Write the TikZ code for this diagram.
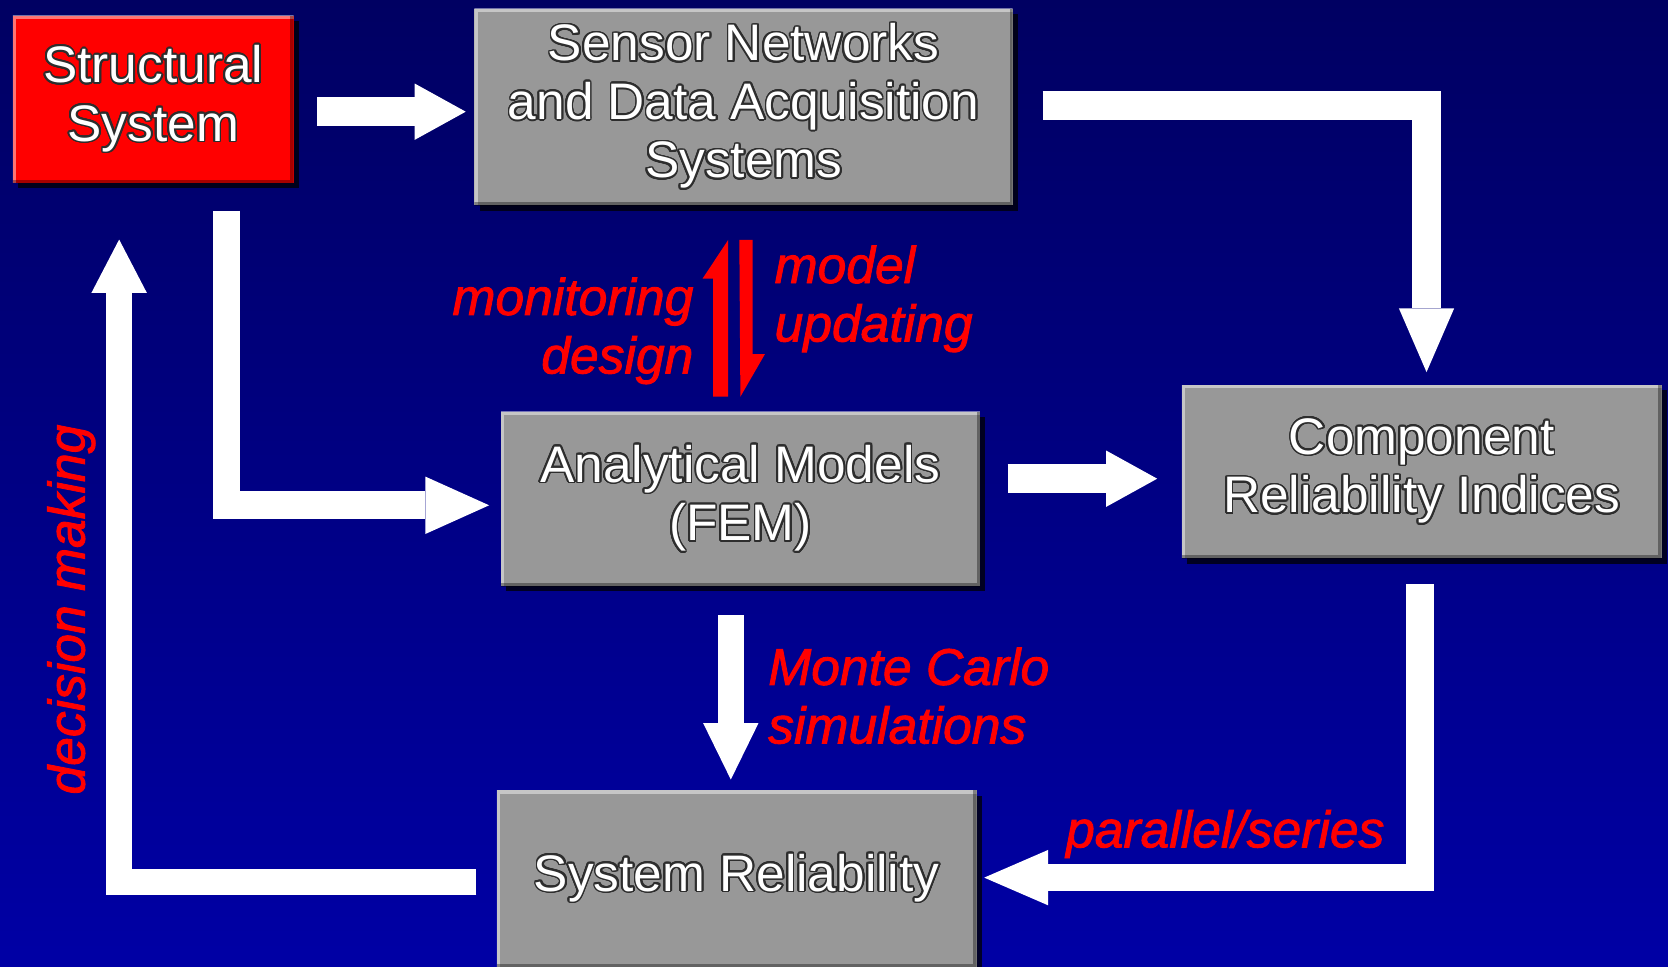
\documentclass[tikz,border=0pt]{standalone}
\usepackage{fontspec}
\setmainfont{Liberation Sans}
\usepackage{contour}
\contourlength{1.6pt}
\contournumber{24}
\usetikzlibrary{arrows.meta,calc,shadows}
\definecolor{bgtop}{RGB}{0,0,98}
\definecolor{bgbot}{RGB}{0,0,165}
\definecolor{boxgray}{RGB}{152,152,152}
\definecolor{boxred}{RGB}{255,0,0}
\definecolor{outl}{RGB}{45,45,45}
\definecolor{lblred}{RGB}{255,0,0}
\newcommand{\olt}[1]{\contour{outl}{#1}}
% slightly heavier red text
\newcommand{\emb}[1]{\special{pdf:code 2 Tr 0.8 w}#1\special{pdf:code 0 Tr}}
\begin{document}
\begin{tikzpicture}[x=1pt,y=-1pt,
  box/.style={rectangle, inner sep=0pt, fill=boxgray, text=white,
    font=\fontsize{48.3}{55}\selectfont, align=center,
    drop shadow={shadow xshift=5pt, shadow yshift=-5pt, opacity=0.75, fill=black},
    path picture={
      \draw[line width=6pt, draw=white, opacity=0.45]
        (path picture bounding box.south west) -- (path picture bounding box.north west)
        -- (path picture bounding box.north east);
      \draw[line width=6pt, draw=black, opacity=0.35]
        (path picture bounding box.south west) -- (path picture bounding box.south east)
        -- (path picture bounding box.north east);
    }},
  redbox/.style={box, fill=boxred},
  warrow/.style={draw=white, line width=26pt, line join=miter, line cap=butt},
  redlbl/.style={text=lblred, font=\fontsize{48.5}{55}\selectfont\itshape, inner sep=0pt},
  harpoon/.style={fill=lblred}
]
\useasboundingbox (0,0) rectangle (1568,909);
\fill[top color=bgtop, bottom color=bgbot] (0,0) rectangle (1568,909);

% boxes
\node[redbox, minimum width=264pt, minimum height=157pt] (ss) at (144,93.5)
  {\olt{Structural}\\\olt{System}};
\node[box, minimum width=506pt, minimum height=185pt] (sensor) at (699,100.5)
  {\olt{Sensor Networks}\\\olt{and Data Acquisition}\\\olt{Systems}};
\node[box, minimum width=450pt, minimum height=164pt] (am) at (696,469)
  {\olt{Analytical Models}\\\olt{(FEM)}};
\node[box, minimum width=451pt, minimum height=163pt] (cri) at (1336.5,443.5)
  {\olt{Component}\\\olt{Reliability Indices}};
\node[box, minimum width=451pt, minimum height=166pt] (sr) at (692.5,826)
  {\olt{System Reliability}};

% white block arrows
\draw[warrow, line width=27pt, -{Triangle[length=48pt,width=53pt,line width=0pt]}]
  ($(ss.east)+(22,11.5)$) -- ($(sensor.west)+(-8,4.5)$);
\draw[warrow, line width=27pt, -{Triangle[length=60pt,width=52pt,line width=0pt]}]
  ($(sensor.east)+(28,-1.5)$) -| ($(cri.north)+(4.5,-12)$);
\draw[warrow, line width=26pt, -{Triangle[length=60pt,width=54pt,line width=0pt]}]
  ($(ss.south)+(69,26)$) |- ($(am.west)+(-11,6)$);
\draw[warrow, line width=27pt, -{Triangle[length=48pt,width=53pt,line width=0pt]}]
  ($(am.east)+(26,-19)$) -- ($(cri.west)+(-23,6.5)$);
\draw[warrow, line width=26pt, -{Triangle[length=60pt,width=52pt,line width=0pt]}]
  ($(cri.south)+(-1.5,24)$) |- ($(sr.east)+(7,-1)$);
\draw[warrow, line width=25pt, -{Triangle[length=53pt,width=52pt,line width=0pt]}]
  ($(am.south)+(-9,27)$) -- ($(sr.north)+(-5.5,-10)$);
\draw[warrow, line width=25pt, -{Triangle[length=50pt,width=52pt,line width=0pt]}]
  ($(sr.west)+(-19,3)$) -| ($(ss.south)+(-32,53)$);

% red harpoons
\fill[harpoon] (670.4,372.9) -- (684.5,372.9) -- (684.5,225.6) -- (660.4,262) -- (670.4,262) -- cycle;
\fill[harpoon] (695,225.6) -- (707.4,225.6) -- (707.4,333) -- (719,333) -- (696,372.9) -- cycle;

% red labels
\node[redlbl, anchor=east, align=right] (lmon) at (652,311) {\emb{monitoring\\design}};
\node[redlbl, anchor=west, align=left] (lmod) at (728,281) {\emb{model\\updating}};
\node[redlbl, anchor=west, align=left] (lmc) at (722,654) {\emb{Monte Carlo\\simulations}};
\node[redlbl, anchor=west] (lps) at (1002,784) {\emb{parallel/series}};
\node[redlbl, rotate=90] (ldm) at (67,573) {\emb{decision making}};
\end{tikzpicture}
\end{document}
